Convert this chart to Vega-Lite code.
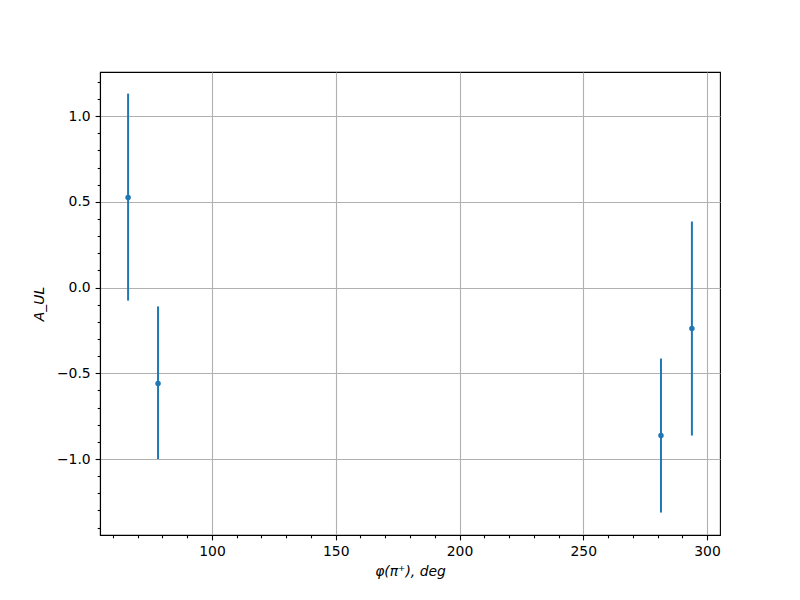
{
  "$schema": "https://vega.github.io/schema/vega-lite/v6.json",
  "autosize": "none",
  "width": 620,
  "height": 463,
  "padding": {"left": 100, "top": 72, "right": 80, "bottom": 65},
  "background": "white",
  "config": {
    "view": {"stroke": "black", "strokeWidth": 1.1},
    "font": "DejaVu Sans",
    "axis": {
      "labelFont": "DejaVu Sans",
      "titleFont": "DejaVu Sans",
      "labelFontSize": 13.9,
      "titleFontSize": 13.9,
      "titleFontWeight": "normal",
      "labelColor": "black",
      "titleColor": "black",
      "tickColor": "black",
      "domainColor": "black",
      "domainWidth": 1.1,
      "tickWidth": 1.1,
      "gridColor": "#b0b0b0",
      "gridWidth": 1.1,
      "gridOpacity": 1
    }
  },
  "data": {
    "values": [
      {"phi": 66.1, "a": 0.525, "lo": -0.076, "hi": 1.131},
      {"phi": 78.2, "a": -0.56, "lo": -1.0, "hi": -0.11},
      {"phi": 281.4, "a": -0.863, "lo": -1.312, "hi": -0.414},
      {"phi": 293.9, "a": -0.239, "lo": -0.863, "hi": 0.385}
    ]
  },
  "layer": [
    {
      "mark": {"type": "rule", "color": "#1f77b4", "strokeWidth": 2},
      "encoding": {
        "x": {
          "field": "phi", "type": "quantitative",
          "scale": {"domain": [54.75, 305.25], "nice": false, "zero": false},
          "axis": {
            "orient": "bottom",
            "values": [100, 150, 200, 250, 300],
            "grid": true,
            "tickSize": 4.9,
            "labelPadding": 4.9,
            "labelFlush": false,
            "labelOverlap": false,
            "title": "φ(π⁺), deg",
            "titleFontStyle": "italic",
            "titlePadding": 6
          }
        },
        "y": {
          "field": "lo", "type": "quantitative",
          "scale": {"domain": [-1.443, 1.257], "nice": false, "zero": false},
          "axis": {
            "orient": "left",
            "values": [-1, -0.5, 0, 0.5, 1],
            "grid": true,
            "tickSize": 4.9,
            "labelPadding": 4.9,
            "labelFlush": false,
            "labelOverlap": false,
            "labelExpr": "replace(format(datum.value, '.1f'), '-', '−')",
            "title": "A_UL",
            "titleFontStyle": "italic",
            "titlePadding": 10
          }
        },
        "y2": {"field": "hi"}
      }
    },
    {
      "mark": {"type": "circle", "color": "#1f77b4", "opacity": 1, "size": 30},
      "encoding": {
        "x": {
          "field": "phi", "type": "quantitative",
          "axis": {
            "orient": "bottom",
            "values": [60, 70, 80, 90, 110, 120, 130, 140, 160, 170, 180, 190, 210, 220, 230, 240, 260, 270, 280, 290],
            "grid": false,
            "labels": false,
            "domain": false,
            "tickSize": 2.8,
            "title": null
          }
        },
        "y": {
          "field": "a", "type": "quantitative",
          "axis": {
            "orient": "left",
            "values": [-1.4, -1.3, -1.2, -1.1, -0.9, -0.8, -0.7, -0.6, -0.4, -0.3, -0.2, -0.1, 0.1, 0.2, 0.3, 0.4, 0.6, 0.7, 0.8, 0.9, 1.1, 1.2],
            "grid": false,
            "labels": false,
            "domain": false,
            "tickSize": 2.8,
            "title": null
          }
        }
      }
    }
  ],
  "resolve": {"axis": {"x": "independent", "y": "independent"}}
}
